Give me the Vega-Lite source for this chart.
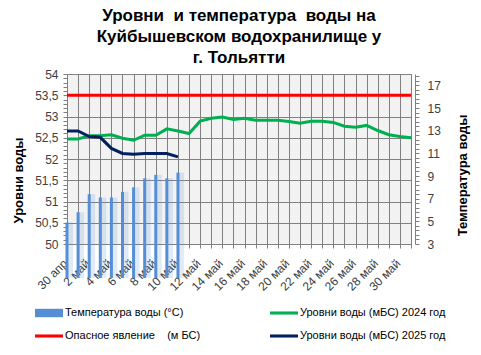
{
  "$schema": "https://vega.github.io/schema/vega-lite/v6.json",
  "width": 344,
  "height": 170,
  "autosize": {"type": "none"},
  "padding": {"left": 67, "top": 74, "right": 70, "bottom": 111},
  "background": "white",
  "title": {
    "text": ["Уровни\u00a0 и температура\u00a0 воды на", "Куйбышевском водохранилище у", "г. Тольятти"],
    "font": "Liberation Sans",
    "fontSize": 17,
    "fontWeight": "bold",
    "color": "black",
    "lineHeight": 21,
    "offset": 1,
    "anchor": "middle"
  },
  "config": {
    "font": "Liberation Sans",
    "view": {"fill": "#f2f2f2", "stroke": "#808080"},
    "axis": {
      "labelFont": "Liberation Sans",
      "labelFontSize": 12,
      "labelColor": "#404040",
      "tickColor": "#808080",
      "domainColor": "#808080",
      "gridColor": "#808080",
      "tickSize": 4,
      "titleFont": "Liberation Sans",
      "titleFontSize": 13,
      "titleFontWeight": "bold",
      "titleColor": "black"
    }
  },
  "data": {
    "values": [
      {"date": "30 апр", "series": "Температура воды (°С)", "value": 4.9},
      {"date": "1 май", "series": "Температура воды (°С)", "value": 5.8},
      {"date": "2 май", "series": "Температура воды (°С)", "value": 7.4},
      {"date": "3 май", "series": "Температура воды (°С)", "value": 7.1},
      {"date": "4 май", "series": "Температура воды (°С)", "value": 7.1},
      {"date": "5 май", "series": "Температура воды (°С)", "value": 7.6},
      {"date": "6 май", "series": "Температура воды (°С)", "value": 8.0},
      {"date": "7 май", "series": "Температура воды (°С)", "value": 8.8},
      {"date": "8 май", "series": "Температура воды (°С)", "value": 9.1},
      {"date": "9 май", "series": "Температура воды (°С)", "value": 8.8},
      {"date": "10 май", "series": "Температура воды (°С)", "value": 9.3},

      {"date": "30 апр", "series": "Уровни воды (мБС) 2024 год", "value": 52.47},
      {"date": "1 май", "series": "Уровни воды (мБС) 2024 год", "value": 52.47},
      {"date": "2 май", "series": "Уровни воды (мБС) 2024 год", "value": 52.55},
      {"date": "3 май", "series": "Уровни воды (мБС) 2024 год", "value": 52.55},
      {"date": "4 май", "series": "Уровни воды (мБС) 2024 год", "value": 52.57},
      {"date": "5 май", "series": "Уровни воды (мБС) 2024 год", "value": 52.49},
      {"date": "6 май", "series": "Уровни воды (мБС) 2024 год", "value": 52.44},
      {"date": "7 май", "series": "Уровни воды (мБС) 2024 год", "value": 52.56},
      {"date": "8 май", "series": "Уровни воды (мБС) 2024 год", "value": 52.56},
      {"date": "9 май", "series": "Уровни воды (мБС) 2024 год", "value": 52.71},
      {"date": "10 май", "series": "Уровни воды (мБС) 2024 год", "value": 52.66},
      {"date": "11 май", "series": "Уровни воды (мБС) 2024 год", "value": 52.60},
      {"date": "12 май", "series": "Уровни воды (мБС) 2024 год", "value": 52.89},
      {"date": "13 май", "series": "Уровни воды (мБС) 2024 год", "value": 52.96},
      {"date": "14 май", "series": "Уровни воды (мБС) 2024 год", "value": 52.99},
      {"date": "15 май", "series": "Уровни воды (мБС) 2024 год", "value": 52.93},
      {"date": "16 май", "series": "Уровни воды (мБС) 2024 год", "value": 52.96},
      {"date": "17 май", "series": "Уровни воды (мБС) 2024 год", "value": 52.91},
      {"date": "18 май", "series": "Уровни воды (мБС) 2024 год", "value": 52.91},
      {"date": "19 май", "series": "Уровни воды (мБС) 2024 год", "value": 52.91},
      {"date": "20 май", "series": "Уровни воды (мБС) 2024 год", "value": 52.88},
      {"date": "21 май", "series": "Уровни воды (мБС) 2024 год", "value": 52.84},
      {"date": "22 май", "series": "Уровни воды (мБС) 2024 год", "value": 52.89},
      {"date": "23 май", "series": "Уровни воды (мБС) 2024 год", "value": 52.89},
      {"date": "24 май", "series": "Уровни воды (мБС) 2024 год", "value": 52.86},
      {"date": "25 май", "series": "Уровни воды (мБС) 2024 год", "value": 52.77},
      {"date": "26 май", "series": "Уровни воды (мБС) 2024 год", "value": 52.75},
      {"date": "27 май", "series": "Уровни воды (мБС) 2024 год", "value": 52.79},
      {"date": "28 май", "series": "Уровни воды (мБС) 2024 год", "value": 52.67},
      {"date": "29 май", "series": "Уровни воды (мБС) 2024 год", "value": 52.57},
      {"date": "30 май", "series": "Уровни воды (мБС) 2024 год", "value": 52.53},
      {"date": "31 май", "series": "Уровни воды (мБС) 2024 год", "value": 52.50},

      {"date": "30 апр", "series": "Опасное явление \u00a0\u00a0 (м БС)", "value": 53.5},
      {"date": "1 май", "series": "Опасное явление \u00a0\u00a0 (м БС)", "value": 53.5},
      {"date": "2 май", "series": "Опасное явление \u00a0\u00a0 (м БС)", "value": 53.5},
      {"date": "3 май", "series": "Опасное явление \u00a0\u00a0 (м БС)", "value": 53.5},
      {"date": "4 май", "series": "Опасное явление \u00a0\u00a0 (м БС)", "value": 53.5},
      {"date": "5 май", "series": "Опасное явление \u00a0\u00a0 (м БС)", "value": 53.5},
      {"date": "6 май", "series": "Опасное явление \u00a0\u00a0 (м БС)", "value": 53.5},
      {"date": "7 май", "series": "Опасное явление \u00a0\u00a0 (м БС)", "value": 53.5},
      {"date": "8 май", "series": "Опасное явление \u00a0\u00a0 (м БС)", "value": 53.5},
      {"date": "9 май", "series": "Опасное явление \u00a0\u00a0 (м БС)", "value": 53.5},
      {"date": "10 май", "series": "Опасное явление \u00a0\u00a0 (м БС)", "value": 53.5},
      {"date": "11 май", "series": "Опасное явление \u00a0\u00a0 (м БС)", "value": 53.5},
      {"date": "12 май", "series": "Опасное явление \u00a0\u00a0 (м БС)", "value": 53.5},
      {"date": "13 май", "series": "Опасное явление \u00a0\u00a0 (м БС)", "value": 53.5},
      {"date": "14 май", "series": "Опасное явление \u00a0\u00a0 (м БС)", "value": 53.5},
      {"date": "15 май", "series": "Опасное явление \u00a0\u00a0 (м БС)", "value": 53.5},
      {"date": "16 май", "series": "Опасное явление \u00a0\u00a0 (м БС)", "value": 53.5},
      {"date": "17 май", "series": "Опасное явление \u00a0\u00a0 (м БС)", "value": 53.5},
      {"date": "18 май", "series": "Опасное явление \u00a0\u00a0 (м БС)", "value": 53.5},
      {"date": "19 май", "series": "Опасное явление \u00a0\u00a0 (м БС)", "value": 53.5},
      {"date": "20 май", "series": "Опасное явление \u00a0\u00a0 (м БС)", "value": 53.5},
      {"date": "21 май", "series": "Опасное явление \u00a0\u00a0 (м БС)", "value": 53.5},
      {"date": "22 май", "series": "Опасное явление \u00a0\u00a0 (м БС)", "value": 53.5},
      {"date": "23 май", "series": "Опасное явление \u00a0\u00a0 (м БС)", "value": 53.5},
      {"date": "24 май", "series": "Опасное явление \u00a0\u00a0 (м БС)", "value": 53.5},
      {"date": "25 май", "series": "Опасное явление \u00a0\u00a0 (м БС)", "value": 53.5},
      {"date": "26 май", "series": "Опасное явление \u00a0\u00a0 (м БС)", "value": 53.5},
      {"date": "27 май", "series": "Опасное явление \u00a0\u00a0 (м БС)", "value": 53.5},
      {"date": "28 май", "series": "Опасное явление \u00a0\u00a0 (м БС)", "value": 53.5},
      {"date": "29 май", "series": "Опасное явление \u00a0\u00a0 (м БС)", "value": 53.5},
      {"date": "30 май", "series": "Опасное явление \u00a0\u00a0 (м БС)", "value": 53.5},
      {"date": "31 май", "series": "Опасное явление \u00a0\u00a0 (м БС)", "value": 53.5},

      {"date": "30 апр", "series": "Уровни воды (мБС) 2025 год", "value": 52.66},
      {"date": "1 май", "series": "Уровни воды (мБС) 2025 год", "value": 52.66},
      {"date": "2 май", "series": "Уровни воды (мБС) 2025 год", "value": 52.53},
      {"date": "3 май", "series": "Уровни воды (мБС) 2025 год", "value": 52.51},
      {"date": "4 май", "series": "Уровни воды (мБС) 2025 год", "value": 52.25},
      {"date": "5 май", "series": "Уровни воды (мБС) 2025 год", "value": 52.13},
      {"date": "6 май", "series": "Уровни воды (мБС) 2025 год", "value": 52.11},
      {"date": "7 май", "series": "Уровни воды (мБС) 2025 год", "value": 52.13},
      {"date": "8 май", "series": "Уровни воды (мБС) 2025 год", "value": 52.13},
      {"date": "9 май", "series": "Уровни воды (мБС) 2025 год", "value": 52.13},
      {"date": "10 май", "series": "Уровни воды (мБС) 2025 год", "value": 52.05}
    ]
  },
  "encoding": {
    "x": {
      "field": "date",
      "type": "ordinal",
      "scale": {
        "type": "point",
        "padding": 0,
        "domain": ["30 апр", "1 май", "2 май", "3 май", "4 май", "5 май", "6 май", "7 май", "8 май", "9 май", "10 май", "11 май", "12 май", "13 май", "14 май", "15 май", "16 май", "17 май", "18 май", "19 май", "20 май", "21 май", "22 май", "23 май", "24 май", "25 май", "26 май", "27 май", "28 май", "29 май", "30 май", "31 май"]
      },
      "axis": {
        "title": null,
        "labelAngle": -45,
        "labelAlign": "right",
        "labelBaseline": "middle",
        "labelExpr": "parseInt(split(datum.label, ' ')[0]) % 2 === 0 ? datum.label : ''",
        "labelOverlap": false,
        "labelBound": false,
        "labelPadding": 13,
        "labelOffset": -2,
        "grid": true,
        "gridOpacity": 1
      }
    }
  },
  "layer": [
    {
      "transform": [{"filter": "datum.series === 'Температура воды (°С)'"}],
      "encoding": {
        "y": {
          "field": "value",
          "type": "quantitative",
          "scale": {"domain": [3, 18], "zero": false, "nice": false},
          "axis": {
            "orient": "right",
            "offset": 4,
            "grid": false,
            "values": [3, 3.4, 3.8, 4.2, 4.6, 5, 5.4, 5.8, 6.2, 6.6, 7, 7.4, 7.8, 8.2, 8.6, 9, 9.4, 9.8, 10.2, 10.6, 11, 11.4, 11.8, 12.2, 12.6, 13, 13.4, 13.8, 14.2, 14.6, 15, 15.4, 15.8, 16.2, 16.6, 17, 17.4, 17.8],
            "labelExpr": "abs(datum.value - round(datum.value)) < 0.01 && round(datum.value) % 2 === 1 ? format(datum.value, 'd') : ''",
            "labelPadding": 8,
            "title": "Температура воды",
            "titleAngle": -90,
            "titleAlign": "center",
            "titleBaseline": "middle",
            "titleX": 47,
            "titleY": 101
          }
        }
      },
      "layer": [
        {"mark": {"type": "bar", "width": 6, "xOffset": 3, "color": "#558ed5", "opacity": 0.18}},
        {
          "mark": {"type": "bar", "width": 3},
          "encoding": {
            "color": {
              "field": "series",
              "type": "nominal",
              "scale": {
                "domain": ["Температура воды (°С)", "Уровни воды (мБС) 2024 год", "Опасное явление \u00a0\u00a0 (м БС)", "Уровни воды (мБС) 2025 год"],
                "range": ["#558ed5", "#00b050", "#ff0000", "#002060"]
              },
              "legend": {
                "orient": "none",
                "legendX": -32,
                "legendY": 225,
                "columns": 2,
                "direction": "horizontal",
                "title": null,
                "labelFont": "Liberation Sans",
                "labelFontSize": 11,
                "labelColor": "black",
                "labelLimit": 300,
                "labelOffset": 2,
                "columnPadding": 69,
                "rowPadding": 4,
                "symbolSize": 784,
                "encode": {
                  "symbols": {
                    "update": {
                      "shape": {"signal": "datum.value === 'Температура воды (°С)' ? 'M-1,-0.3H1V0.3H-1Z' : 'M-1,-0.11H1V0.11H-1Z'"},
                      "fill": {"scale": "color", "field": "value"},
                      "stroke": {"scale": "color", "field": "value"},
                      "strokeWidth": {"value": 0},
                      "size": {"value": 784},
                      "opacity": {"value": 1}
                    }
                  }
                }
              }
            }
          }
        }
      ]
    },
    {
      "transform": [{"filter": "datum.series !== 'Температура воды (°С)'"}],
      "mark": {"type": "line", "strokeWidth": 3},
      "encoding": {
        "y": {
          "field": "value",
          "type": "quantitative",
          "scale": {"domain": [50, 54], "zero": false, "nice": false},
          "axis": {
            "orient": "left",
            "values": [50, 50.1, 50.2, 50.3, 50.4, 50.5, 50.6, 50.7, 50.8, 50.9, 51, 51.1, 51.2, 51.3, 51.4, 51.5, 51.6, 51.7, 51.8, 51.9, 52, 52.1, 52.2, 52.3, 52.4, 52.5, 52.6, 52.7, 52.8, 52.9, 53, 53.1, 53.2, 53.3, 53.4, 53.5, 53.6, 53.7, 53.8, 53.9, 54],
            "labelExpr": "abs(datum.value * 2 - round(datum.value * 2)) < 0.01 ? replace(format(datum.value, '~g'), '.', ',') : ''",
            "grid": true,
            "gridOpacity": {"condition": {"test": "abs(datum.value * 2 - round(datum.value * 2)) < 0.01", "value": 1}, "value": 0},
            "labelPadding": 5,
            "title": "Уровни воды",
            "titleAngle": -90,
            "titleAlign": "center",
            "titleBaseline": "middle",
            "titleX": -49,
            "titleY": 106
          }
        },
        "color": {"field": "series", "type": "nominal"}
      }
    }
  ],
  "resolve": {"scale": {"y": "independent"}}
}
